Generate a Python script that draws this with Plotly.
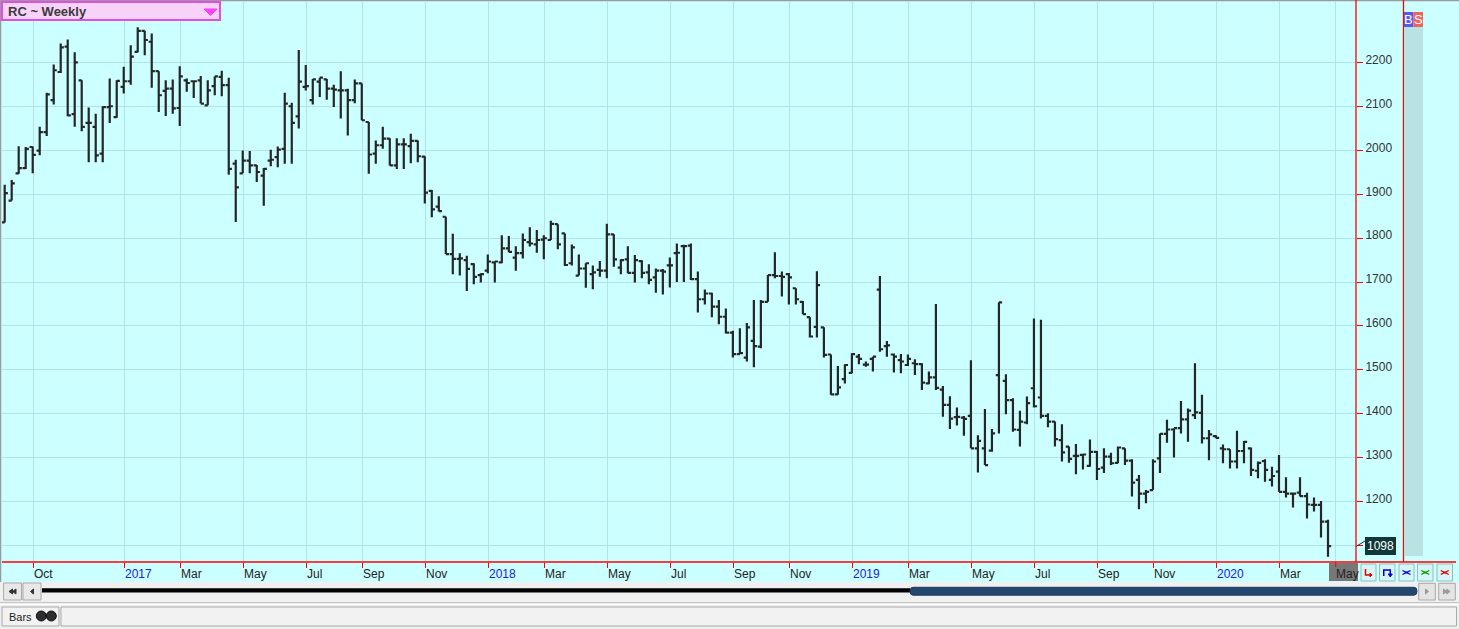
import numpy as np
import pandas as pd
import plotly.graph_objects as go

# ---------------- data ----------------
title_text = "RC ~ Weekly"
dates = pd.date_range("2016-09-09", periods=190, freq="W-FRI")

open_ = [1836, 1886, 1948, 1960, 2008, 2000, 2042, 2115, 2179, 2237,
         2083, 2160, 2063, 2054, 1993, 2099, 2076, 2145, 2158, 2225,
         2273, 2248, 2181, 2136, 2141, 2097, 2160, 2158, 2160, 2103,
         2147, 2168, 2149, 1970, 1948, 1977, 1966, 1943, 1977, 1985,
         2004, 2101, 2078, 2145, 2115, 2157, 2162, 2141, 2137, 2137,
         2115, 2153, 2065, 1993, 2012, 2027, 1966, 2014, 2010, 2022,
         1986, 1908, 1872, 1849, 1764, 1753, 1750, 1741, 1716, 1726,
         1745, 1745, 1777, 1756, 1766, 1791, 1786, 1797, 1796, 1832,
         1811, 1743, 1715, 1731, 1718, 1728, 1726, 1809, 1733, 1752,
         1721, 1748, 1722, 1711, 1726, 1738, 1766, 1782, 1783, 1707,
         1661, 1674, 1644, 1621, 1585, 1536, 1528, 1566, 1553, 1655,
         1716, 1714, 1718, 1686, 1655, 1620, 1598, 1597, 1535, 1444,
         1479, 1493, 1530, 1512, 1525, 1683, 1554, 1535, 1522, 1511,
         1515, 1513, 1469, 1483, 1455, 1420, 1392, 1391, 1395, 1321,
         1321, 1316, 1488, 1475, 1431, 1363, 1380, 1458, 1437, 1395,
         1382, 1340, 1325, 1304, 1306, 1281, 1313, 1277, 1302, 1288,
         1321, 1293, 1249, 1218, 1226, 1298, 1354, 1364, 1367, 1387,
         1397, 1402, 1344, 1349, 1321, 1319, 1291, 1315, 1321, 1270,
         1292, 1249, 1268, 1222, 1218, 1220, 1212, 1192, 1192, 1154]

high = [1922, 1933, 2010, 2008, 2009, 2054, 2132, 2196, 2244, 2253,
        2224, 2160, 2098, 2084, 2101, 2164, 2160, 2191, 2240, 2281,
        2273, 2267, 2181, 2160, 2162, 2192, 2164, 2158, 2170, 2160,
        2169, 2182, 2166, 1979, 2000, 1999, 1967, 1960, 2002, 2009,
        2132, 2109, 2229, 2195, 2163, 2166, 2163, 2150, 2181, 2141,
        2162, 2153, 2065, 2023, 2054, 2028, 2028, 2028, 2038, 2023,
        1987, 1910, 1896, 1849, 1810, 1766, 1760, 1743, 1720, 1763,
        1747, 1807, 1805, 1782, 1811, 1825, 1819, 1807, 1840, 1832,
        1811, 1786, 1763, 1743, 1738, 1748, 1833, 1809, 1752, 1782,
        1762, 1750, 1741, 1731, 1730, 1756, 1788, 1785, 1788, 1724,
        1683, 1676, 1659, 1640, 1589, 1595, 1607, 1659, 1659, 1716,
        1768, 1724, 1721, 1686, 1657, 1620, 1725, 1597, 1535, 1509,
        1513, 1538, 1536, 1519, 1530, 1714, 1566, 1537, 1536, 1535,
        1524, 1515, 1496, 1650, 1463, 1440, 1414, 1395, 1522, 1351,
        1411, 1365, 1654, 1490, 1435, 1407, 1439, 1617, 1614, 1401,
        1382, 1376, 1325, 1331, 1308, 1341, 1315, 1321, 1311, 1325,
        1321, 1296, 1260, 1226, 1296, 1355, 1386, 1367, 1429, 1412,
        1515, 1443, 1363, 1351, 1330, 1319, 1361, 1338, 1323, 1291,
        1296, 1279, 1306, 1255, 1220, 1255, 1220, 1209, 1201, 1158]

low = [1836, 1886, 1947, 1958, 1948, 1989, 2033, 2105, 2177, 2078,
       2054, 2044, 1973, 1973, 1973, 2063, 2075, 2130, 2150, 2224,
       2217, 2143, 2088, 2079, 2084, 2056, 2134, 2120, 2107, 2103,
       2126, 2124, 1945, 1837, 1948, 1948, 1928, 1874, 1964, 1962,
       1970, 1970, 2050, 2137, 2105, 2122, 2116, 2099, 2073, 2034,
       2108, 2069, 1947, 1970, 2004, 1966, 1958, 1958, 1971, 1973,
       1879, 1848, 1861, 1764, 1718, 1715, 1680, 1695, 1699, 1720,
       1699, 1743, 1768, 1726, 1754, 1781, 1767, 1752, 1796, 1775,
       1737, 1738, 1715, 1687, 1684, 1712, 1709, 1735, 1718, 1720,
       1699, 1709, 1695, 1676, 1672, 1688, 1700, 1700, 1705, 1631,
       1649, 1620, 1604, 1583, 1528, 1536, 1519, 1506, 1549, 1655,
       1709, 1667, 1649, 1649, 1627, 1574, 1574, 1528, 1443, 1443,
       1469, 1492, 1513, 1507, 1496, 1541, 1530, 1494, 1492, 1509,
       1488, 1454, 1467, 1454, 1393, 1365, 1373, 1350, 1321, 1266,
       1283, 1313, 1355, 1399, 1359, 1325, 1376, 1414, 1389, 1369,
       1325, 1291, 1288, 1262, 1273, 1279, 1249, 1265, 1283, 1287,
       1283, 1211, 1182, 1196, 1226, 1265, 1334, 1300, 1355, 1336,
       1388, 1332, 1294, 1344, 1287, 1275, 1275, 1287, 1258, 1253,
       1245, 1234, 1222, 1209, 1186, 1211, 1161, 1177, 1118, 1074]

close = [1903, 1925, 1960, 2004, 1990, 2042, 2128, 2183, 2235, 2080,
         2201, 2054, 2063, 1989, 2099, 2101, 2159, 2158, 2214, 2273,
         2252, 2181, 2126, 2141, 2096, 2169, 2154, 2158, 2107, 2137,
         2169, 2149, 1958, 1916, 1977, 1966, 1951, 1958, 1979, 2002,
         2107, 2063, 2157, 2147, 2162, 2166, 2141, 2139, 2137, 2115,
         2153, 2069, 1991, 2012, 2027, 1966, 2014, 2014, 2022, 1987,
         1904, 1866, 1862, 1764, 1753, 1754, 1730, 1712, 1718, 1747,
         1747, 1777, 1769, 1766, 1796, 1788, 1796, 1800, 1833, 1786,
         1739, 1779, 1731, 1743, 1722, 1726, 1809, 1752, 1750, 1721,
         1750, 1721, 1705, 1726, 1724, 1738, 1767, 1782, 1707, 1661,
         1674, 1644, 1621, 1585, 1536, 1538, 1597, 1554, 1655, 1716,
         1714, 1712, 1711, 1661, 1627, 1576, 1693, 1534, 1444, 1460,
         1511, 1536, 1525, 1512, 1530, 1547, 1556, 1530, 1519, 1525,
         1513, 1471, 1483, 1459, 1420, 1389, 1393, 1388, 1321, 1338,
         1283, 1355, 1654, 1431, 1364, 1382, 1424, 1417, 1395, 1382,
         1342, 1312, 1297, 1304, 1307, 1313, 1274, 1302, 1287, 1323,
         1293, 1243, 1218, 1222, 1291, 1354, 1364, 1367, 1387, 1407,
         1403, 1344, 1353, 1345, 1319, 1291, 1315, 1336, 1272, 1288,
         1272, 1258, 1222, 1218, 1218, 1212, 1193, 1192, 1154, 1098]

price_ticks = [1100, 1200, 1300, 1400, 1500, 1600, 1700, 1800, 1900, 2000, 2100, 2200]
last_price = 1098

month_starts = ["2016-10", "2017-01", "2017-03", "2017-05", "2017-07", "2017-09", "2017-11",
                "2018-01", "2018-03", "2018-05", "2018-07", "2018-09", "2018-11",
                "2019-01", "2019-03", "2019-05", "2019-07", "2019-09", "2019-11",
                "2020-01", "2020-03", "2020-05"]
month_labels = ["Oct", "2017", "Mar", "May", "Jul", "Sep", "Nov",
                "2018", "Mar", "May", "Jul", "Sep", "Nov",
                "2019", "Mar", "May", "Jul", "Sep", "Nov",
                "2020", "Mar", "May"]
status_label = "Bars"

# ---------------- layout helpers ----------------
W, H = 1459, 629
def X(px):
    return px / W
def Y(py):
    return 1 - py / H

BG = "#CCFFFF"
GRID = "#B6E2E6"
BAR = "#262626"
RED = "#FF0000"
FONT = "Liberation Sans, Arial, sans-serif"

xpos = np.arange(len(dates))
month_idx = [int(np.searchsorted(dates.values, np.datetime64(pd.Timestamp(m)))) for m in month_starts]
tick_pos = [i + 0.14 for i in month_idx]

fig = go.Figure()
fig.add_trace(go.Ohlc(
    x=xpos, open=open_, high=high, low=low, close=close,
    increasing=dict(line=dict(color=BAR, width=2.2)),
    decreasing=dict(line=dict(color=BAR, width=2.2)),
    tickwidth=0.45, hoverinfo="none", showlegend=False,
))

shapes = []
def rect(x0, y0, x1, y1, fill, line=None, lw=1, layer="above"):
    shapes.append(dict(type="rect", xref="paper", yref="paper",
                       x0=X(x0), x1=X(x1), y0=Y(y1), y1=Y(y0),
                       fillcolor=fill, layer=layer,
                       line=dict(color=line if line else fill, width=lw if line else 0)))
def hline(x0, x1, y, color, lw=1, layer="above"):
    shapes.append(dict(type="line", xref="paper", yref="paper",
                       x0=X(x0), x1=X(x1), y0=Y(y), y1=Y(y),
                       line=dict(color=color, width=lw), layer=layer))
def vline(x, y0, y1, color, lw=1, layer="above"):
    shapes.append(dict(type="line", xref="paper", yref="paper",
                       x0=X(x), x1=X(x), y0=Y(y0), y1=Y(y1),
                       line=dict(color=color, width=lw), layer=layer))
def poly(pts, fill=None, line=None, lw=1, closed=True):
    d = "M " + " L ".join(f"{X(a):.6f},{Y(b):.6f}" for a, b in pts)
    if closed:
        d += " Z"
    shapes.append(dict(type="path", xref="paper", yref="paper", path=d,
                       fillcolor=fill if fill else "rgba(0,0,0,0)",
                       line=dict(color=line if line else (fill or "#000"), width=lw), layer="above"))

# chart background (cyan)
rect(0, 0, W, 582, BG, layer="below")
# outer borders
hline(0, W, 0.5, "#9A9A9A", 1.5)
vline(0.5, 0, 582, "#9A9A9A", 1.5)
# red axis frame
vline(1356, 0, 562, RED, 1.3)
vline(1403.5, 0, 562, RED, 1.3)
hline(2, 1456, 562, RED, 1.3)

# title box
rect(2, 2, 220, 20, "#F8D2F8", "#E050E0", 2)
poly([(204, 9), (217, 9), (210.5, 15.5)], fill="#FF40FF", line="#FF40FF")

# B / S strip
rect(1404, 27, 1423, 556, "#B9E2E2")
rect(1404, 12, 1413.3, 27, "#5858F0")
rect(1413.3, 12, 1423, 27, "#EE6262")

# current month highlight
rect(1329, 563, 1358, 581, "#777777")
vline(1335.7, 562, 567, RED, 1)

# bottom right buttons
btns = [(1361, 1376), (1379.5, 1395), (1399, 1414), (1417.5, 1433), (1437, 1452.5)]
for (a, b) in btns:
    rect(a, 564, b, 581, "#D6F5F5", "#8EBFBF", 1)
c = [(a + b) / 2 for a, b in btns]
poly([(c[0] - 3, 569), (c[0] - 3, 575), (c[0] + 3, 575)], line="#E00000", lw=1.5, closed=False)
poly([(c[0] + 1.5, 573), (c[0] + 3.5, 575), (c[0] + 1.5, 577)], fill="#E00000", line="#E00000")
poly([(c[1] - 3.5, 576), (c[1] - 3.5, 570), (c[1] + 3, 570), (c[1] + 3, 575)], line="#0000D0", lw=1.5, closed=False)
poly([(c[1] + 1, 574), (c[1] + 3, 577), (c[1] + 5, 574)], fill="#0000D0", line="#0000D0")
for k, col in zip([2, 3, 4], ["#0000E0", "#00A000", "#E00000"]):
    cx = c[k]
    poly([(cx - 4, 570.5), (cx, 572.5), (cx + 4, 570.5)], line=col, lw=1.3, closed=False)
    poly([(cx - 4, 574.5), (cx, 572.5), (cx + 4, 574.5)], line=col, lw=1.3, closed=False)
    hline(cx - 1.5, cx + 1.5, 572.5, col, 1.5)

# scroll bar area
rect(3.6, 583, 21.5, 600, "#E8E8E8", "#A8A8A8", 1)
rect(23, 583, 41, 600, "#E8E8E8", "#A8A8A8", 1)
poly([(9, 591.5), (12.5, 589), (12.5, 594)], fill="#333333")
poly([(12.5, 591.5), (16, 589), (16, 594)], fill="#333333")
poly([(30.5, 591.5), (33.5, 589), (33.5, 594)], fill="#333333")
rect(42, 588.3, 910, 592.5, "#000000")
shapes.append(dict(type="path", xref="paper", yref="paper", layer="above",
                   path=(f"M {X(913):.6f},{Y(587.3):.6f} L {X(1414):.6f},{Y(587.3):.6f} "
                         f"Q {X(1417):.6f},{Y(587.3):.6f} {X(1417):.6f},{Y(591.2):.6f} "
                         f"Q {X(1417):.6f},{Y(595.2):.6f} {X(1414):.6f},{Y(595.2):.6f} "
                         f"L {X(913):.6f},{Y(595.2):.6f} "
                         f"Q {X(910):.6f},{Y(595.2):.6f} {X(910):.6f},{Y(591.2):.6f} "
                         f"Q {X(910):.6f},{Y(587.3):.6f} {X(913):.6f},{Y(587.3):.6f} Z"),
                   fillcolor="#24476F", line=dict(color="#1C3A5C", width=1)))
rect(1418.7, 583.3, 1435.3, 600, "#E4E4E4", "#A8A8A8", 1)
rect(1438.7, 583.3, 1455.3, 600, "#E4E4E4", "#A8A8A8", 1)
poly([(1425.5, 589), (1425.5, 594), (1428.5, 591.5)], fill="#9A9A9A")
poly([(1443.5, 589), (1443.5, 594), (1446.8, 591.5)], fill="#9A9A9A")
poly([(1446.8, 589), (1446.8, 594), (1450.1, 591.5)], fill="#9A9A9A")

# status bar
hline(0, W, 602.5, "#C4C4C4", 1)
hline(0, W, 604.5, "#FFFFFF", 1)
rect(2, 607, 59, 626, "#F2F2F2", "#A9A9A9", 1)
rect(61, 607, 1456.5, 626, "#F2F2F2", "#A9A9A9", 1)
for cx in (41.3, 51.3):
    shapes.append(dict(type="circle", xref="paper", yref="paper", layer="above",
                       x0=X(cx - 5), x1=X(cx + 5), y0=Y(621), y1=Y(611),
                       fillcolor="#2E2E2E", line=dict(color="#111111", width=1)))
# connector to last-price label
shapes.append(dict(type="line", xref="paper", yref="paper", layer="above",
                   x0=X(1356), x1=X(1365), y0=Y(546.5), y1=Y(541),
                   line=dict(color="#333333", width=1)))

annotations = []
annotations.append(dict(xref="paper", yref="paper", x=X(6), y=Y(11.5), xanchor="left", yanchor="middle",
                        text=f"<b>{title_text}</b>", showarrow=False,
                        font=dict(family=FONT, size=13, color="#3A3A3A")))
for lab, tp in zip(month_labels, tick_pos):
    is_year = lab.isdigit()
    annotations.append(dict(xref="x", yref="paper", x=tp - 0.25, y=Y(573.5), xanchor="left", yanchor="middle",
                            text=lab, showarrow=False,
                            font=dict(family=FONT, size=12, color="#2020E0" if is_year else "#222222")))
annotations.append(dict(xref="paper", yref="paper", x=X(1408.7), y=Y(19.5), text="B", showarrow=False,
                        xanchor="center", yanchor="middle",
                        font=dict(family=FONT, size=13, color="#FFFFFF")))
annotations.append(dict(xref="paper", yref="paper", x=X(1418.2), y=Y(19.5), text="S", showarrow=False,
                        xanchor="center", yanchor="middle",
                        font=dict(family=FONT, size=13, color="#FFFFFF")))
annotations.append(dict(xref="paper", yref="y", x=X(1380.5), y=last_price, text=str(last_price),
                        xanchor="center", yanchor="middle",
                        showarrow=False, bgcolor="#103838", bordercolor="#103838", borderpad=1,
                        font=dict(family=FONT, size=12, color="#FFFFFF")))
annotations.append(dict(xref="paper", yref="paper", x=X(7), y=Y(616.5), text=status_label, showarrow=False,
                        xanchor="left", yanchor="middle",
                        font=dict(family=FONT, size=11, color="#222222")))

y_top = 2200 + (62.8 - 2) / 0.4386
y_bot = 1100 - (562 - 545.3) / 0.4386
x_left = (2 - 4.7) / 7.0016
x_right = (1356 - 4.7) / 7.0016

fig.update_layout(
    width=W, height=H, margin=dict(l=0, r=0, t=0, b=0),
    paper_bgcolor="#F0F0F0", plot_bgcolor=BG,
    shapes=shapes, annotations=annotations,
    showlegend=False, hovermode=False,
    font=dict(family=FONT, size=12, color="#333333"),
    xaxis=dict(domain=[X(2), X(1356)], range=[x_left, x_right], type="linear",
               tickvals=tick_pos, showticklabels=False,
               ticks="outside", ticklen=5, tickcolor=RED, tickwidth=1,
               showgrid=True, gridcolor=GRID, gridwidth=1,
               zeroline=False, showline=False, fixedrange=True,
               rangeslider=dict(visible=False)),
    yaxis=dict(domain=[Y(562), Y(2)], range=[y_bot, y_top], side="right",
               tickvals=price_ticks,
               ticktext=["" if v == 1100 else str(v) for v in price_ticks],
               ticks="outside", ticklen=6, tickcolor=RED, tickwidth=1,
               ticklabelshift=-3,
               tickfont=dict(family=FONT, size=12, color="#333333"),
               showgrid=True, gridcolor=GRID, gridwidth=1,
               zeroline=False, showline=False, fixedrange=True),
)

fig.write_html("out.html", config={"displayModeBar": False, "staticPlot": True},
               post_script="document.body.style.margin='0';document.body.style.overflow='hidden';")
